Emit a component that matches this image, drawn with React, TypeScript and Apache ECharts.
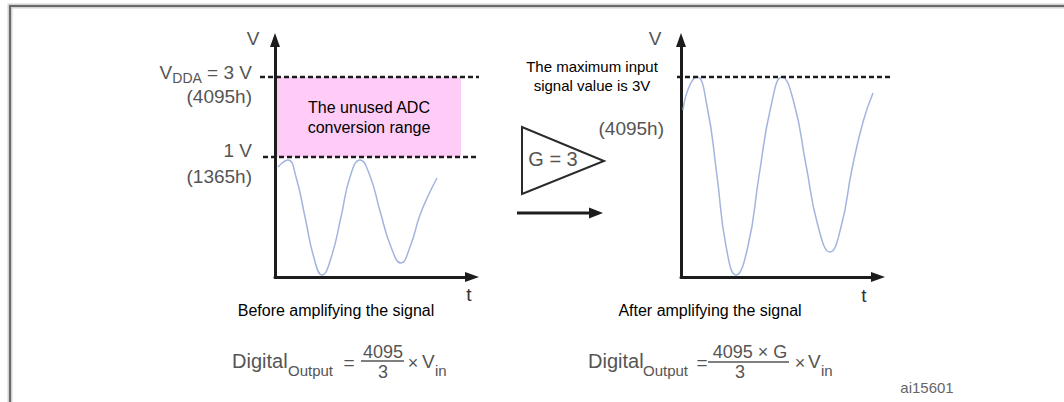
import React, { useEffect, useRef } from 'react';
import * as echarts from 'echarts';

// ---- data (diagram units: time span 0..197, level span 0..237 above the t axis) ----
const timeMax = 197;
const levelMax = 237;
const level3V = 200; // VDDA = 3 V reference (4095h)
const level1V = 120; // 1 V reference (1365h)

// Signal before amplification (peaks stay below the 1 V line)
const beforeT = [3, 13, 21, 30, 39, 47, 56, 66, 75, 85, 95, 105, 116, 126, 135, 145, 154, 162];
const beforeV = [110, 117, 100, 60, 19, 2, 19, 60, 100, 117, 101, 66, 30, 14, 30, 62, 83, 99];

// Signal after amplification by G = 3 (peaks reach the 3 V line)
const afterT = [2, 8, 16, 26, 36, 45, 55, 67, 78, 90, 101, 113, 125, 137, 149, 160, 171, 182, 192];
const afterV = [167, 190, 200, 171, 101, 31, 2, 31, 101, 171, 200, 174, 112, 51, 25, 50, 108, 155, 184];

// Unused ADC conversion range band (time extent)
const unusedBandT = [2, 186];
// Dashed reference line extents (time units, extend past the axes)
const ref3VLeftT = [-15, 204];
const ref1VLeftT = [-12, 204];
const ref3VRightT = [-4, 211];

const FONT = '"Liberation Sans", Arial, Helvetica, sans-serif';
const GRAY = '#555555';
const DARK = '#1c1c1c';
const WAVE = '#a3b5dd';

export default function App() {
  const ref = useRef<HTMLDivElement>(null);

  useEffect(() => {
    if (!ref.current) return;
    const chart = echarts.init(ref.current, null, { renderer: 'svg' });

    const axisLine = {
      show: true,
      onZero: true,
      symbol: ['none', 'triangle'],
      symbolSize: [10, 14],
      lineStyle: { color: DARK, width: 3 },
    };
    const hidden = {
      axisTick: { show: false },
      axisLabel: { show: false },
      splitLine: { show: false },
    };
    const xAxis = [0, 1].map((g) => ({
      type: 'value', gridIndex: g, min: 0, max: timeMax, axisLine, ...hidden,
    }));
    const yAxis = [0, 1].map((g) => ({
      type: 'value', gridIndex: g, min: 0, max: levelMax, axisLine, ...hidden,
    }));

    chart.setOption({
      animation: false,
      backgroundColor: '#ffffff',
      grid: [
        { left: 275, top: 40, width: 197, height: 237 },
        { left: 681, top: 40, width: 197, height: 237 },
      ],
      xAxis,
      yAxis,
      series: [
        {
          type: 'line',
          xAxisIndex: 0,
          yAxisIndex: 0,
          data: beforeT.map((t, i) => [t, beforeV[i]]),
          smooth: 0.5,
          showSymbol: false,
          lineStyle: { color: WAVE, width: 1.5 },
          z: 3,
          markArea: {
            silent: true,
            itemStyle: { color: '#ffccf7' },
            label: {
              show: true,
              position: 'inside',
              formatter: 'The unused ADC\nconversion range',
              color: '#000',
              fontSize: 16,
              lineHeight: 20,
              fontFamily: FONT,
            },
            data: [[
              { coord: [unusedBandT[0], level1V] },
              { coord: [unusedBandT[1], level3V] },
            ]],
          },
        },
        {
          type: 'line',
          xAxisIndex: 1,
          yAxisIndex: 1,
          data: afterT.map((t, i) => [t, afterV[i]]),
          smooth: 0.5,
          showSymbol: false,
          lineStyle: { color: WAVE, width: 1.5 },
          z: 3,
        },
      ],
    });

    const px = (g: number, x: number, y: number) =>
      chart.convertToPixel({ gridIndex: g } as any, [x, y]) as number[];

    const dashed = (g: number, ext: number[], lvl: number) => {
      const a = px(g, ext[0], lvl);
      const b = px(g, ext[1], lvl);
      return {
        type: 'line', z: 20, silent: true,
        shape: { x1: a[0], y1: a[1], x2: b[0], y2: b[1] },
        style: { stroke: DARK, lineWidth: 2.5, lineDash: [5, 3] },
      };
    };

    const txt = (
      x: number, y: number, text: string, size: number, color: string,
      align: string = 'center',
    ) => ({
      type: 'text', x, y, z: 30, silent: true,
      style: {
        text, fill: color, fontSize: size, fontFamily: FONT,
        align, verticalAlign: 'middle',
      },
    });

    const fracBar = (x1: number, x2: number, y: number) => ({
      type: 'line', z: 30, silent: true,
      shape: { x1, y1: y, x2, y2: y },
      style: { stroke: GRAY, lineWidth: 1.6 },
    });

    chart.setOption({
      graphic: [
        // frame
        {
          type: 'polyline', z: 1, silent: true,
          shape: { points: [[10, 402], [10, 6], [1064, 6]] },
          style: { stroke: '#d2d2d2', lineWidth: 5, fill: 'none' },
        },
        {
          type: 'polyline', z: 2, silent: true,
          shape: { points: [[10, 402], [10, 6], [1064, 6]] },
          style: { stroke: '#6a6a6a', lineWidth: 2, fill: 'none' },
        },
        // reference dashed lines
        dashed(0, ref3VLeftT, level3V),
        dashed(0, ref1VLeftT, level1V),
        dashed(1, ref3VRightT, level3V),

        // left axis labels
        txt(253, 38, 'V', 19, GRAY),
        {
          type: 'text', x: 252, y: 72, z: 30, silent: true,
          style: {
            text: '{m|V}{s|DDA}{m| = 3 V}',
            align: 'right', verticalAlign: 'middle',
            rich: {
              m: { fontSize: 19, fontFamily: FONT, fill: GRAY, lineHeight: 26 },
              s: { fontSize: 14, fontFamily: FONT, fill: GRAY, lineHeight: 14, verticalAlign: 'bottom' },
            },
          },
        },
        txt(252, 96, '(4095h)', 19, GRAY, 'right'),
        txt(252, 150, '1 V', 19, GRAY, 'right'),
        txt(252, 176, '(1365h)', 19, GRAY, 'right'),
        txt(469, 294, 't', 19, '#333'),

        // right axis labels
        txt(655, 38, 'V', 19, GRAY),
        txt(664, 128, '(4095h)', 19, GRAY, 'right'),
        txt(864, 295, 't', 19, '#333'),
        {
          type: 'text', x: 592, y: 75.5, z: 30, silent: true,
          style: {
            text: 'The maximum input\nsignal value is 3V',
            fill: '#000', fontSize: 15, fontFamily: FONT, lineHeight: 19,
            align: 'center', verticalAlign: 'middle',
          },
        },

        // amplifier
        {
          type: 'polygon', z: 25, silent: true,
          shape: { points: [[522, 127], [522, 194], [604, 161]] },
          style: { fill: '#ffffff', stroke: '#2a2a2a', lineWidth: 2 },
        },
        txt(553, 159, 'G = 3', 20, GRAY),
        {
          type: 'line', z: 25, silent: true,
          shape: { x1: 517, y1: 213, x2: 592, y2: 213 },
          style: { stroke: DARK, lineWidth: 3 },
        },
        {
          type: 'polygon', z: 25, silent: true,
          shape: { points: [[589, 207.5], [603, 213], [589, 218.5]] },
          style: { fill: DARK },
        },

        // captions
        txt(336, 310, 'Before amplifying the signal', 16, '#000'),
        txt(710, 310, 'After amplifying the signal', 16, '#000'),

        // left formula
        txt(232, 361, 'Digital', 20, GRAY, 'left'),
        txt(288, 370, 'Output', 15, GRAY, 'left'),
        txt(349, 362, '=', 19, GRAY),
        txt(383, 352, '4095', 18, GRAY),
        fracBar(361, 404, 361),
        txt(383, 372, '3', 18, GRAY),
        txt(413, 363, '×', 18, GRAY),
        txt(422, 361, 'V', 19, GRAY, 'left'),
        txt(435, 370, 'in', 15, GRAY, 'left'),

        // right formula
        txt(588, 361, 'Digital', 20, GRAY, 'left'),
        txt(643, 370, 'Output', 15, GRAY, 'left'),
        txt(702, 362, '=', 19, GRAY),
        txt(750, 352, '4095 × G', 18, GRAY),
        fracBar(708, 789, 362),
        txt(740, 372, '3', 18, GRAY),
        txt(800, 363, '×', 18, GRAY),
        txt(808, 361, 'V', 19, GRAY, 'left'),
        txt(821, 370, 'in', 15, GRAY, 'left'),

        txt(927, 387, 'ai15601', 15, '#666'),
      ],
    });

    return () => chart.dispose();
  }, []);

  return (
    <div
      ref={ref}
      style={{ position: 'fixed', left: 0, top: 0, width: 1064, height: 402, background: '#fff' }}
    />
  );
}
